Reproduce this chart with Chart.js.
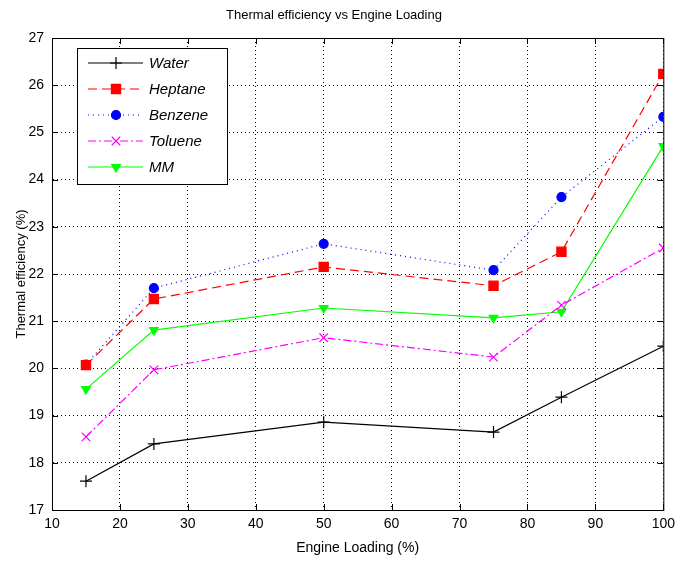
<!DOCTYPE html>
<html>
<head>
<meta charset="utf-8">
<script src="https://cdn.jsdelivr.net/npm/chart.js@4"></script>
<style>
  body { margin: 0; background: #fff; }
  #cv { display: block; }
</style>
</head>
<body>
<canvas id="cv" width="681" height="561"></canvas>
<script>
// engine loading (%) and thermal efficiency (%) per fuel
const loads = [15, 25, 50, 75, 85, 100];
const water   = [17.61, 18.40, 18.86, 18.65, 19.39, 20.47];
const heptane = [20.07, 21.47, 22.15, 21.75, 22.47, 26.24];
const benzene = [20.08, 21.70, 22.64, 22.08, 23.63, 25.33];
const toluene = [18.55, 19.97, 20.65, 20.24, 21.34, 22.55];
const mm      = [19.56, 20.81, 21.28, 21.07, 21.20, 24.71];
const xTicks = [10, 20, 30, 40, 50, 60, 70, 80, 90, 100];
const yTicks = [17, 18, 19, 20, 21, 22, 23, 24, 25, 26, 27];

function pts(ys) {
  return loads.map((x, i) => ({ x: x, y: ys[i] }));
}

const FONT = '"Liberation Sans", Arial, sans-serif';

const series = [
  { label: 'Water',   data: water,   color: '#000000', dash: [],          style: 'cross',    radius: 6,   rot: 0 },
  { label: 'Heptane', data: heptane, color: '#ff0000', dash: [9, 5],      style: 'rect',     radius: 6.5, rot: 0 },
  { label: 'Benzene', data: benzene, color: '#0000ff', dash: [1, 4],      style: 'circle',   radius: 4.5, rot: 0 },
  { label: 'Toluene', data: toluene, color: '#ff00ff', dash: [8, 3, 2, 3], style: 'crossRot', radius: 6,   rot: 0 },
  { label: 'MM',      data: mm,      color: '#00ff00', dash: [],          style: 'triangle', radius: 5,   rot: 180 }
];

const datasets = series.map(s => ({
  label: s.label,
  data: pts(s.data),
  borderColor: s.color,
  backgroundColor: s.color,
  borderWidth: 1.2,
  borderDash: s.dash,
  pointStyle: s.style,
  pointRadius: s.radius,
  pointRotation: s.rot,
  pointBorderWidth: 1.2,
  pointBorderColor: s.color,
  pointBackgroundColor: s.color,
  tension: 0
}));

// frame, inward ticks and inset legend
const matlabLook = {
  id: 'matlabLook',
  afterDraw(chart) {
    const ctx = chart.ctx;
    const a = chart.chartArea;
    const xs = chart.scales.x, ys = chart.scales.y;
    ctx.save();
    ctx.strokeStyle = '#000';
    ctx.lineWidth = 1;
    ctx.setLineDash([]);
    ctx.strokeRect(a.left + 0.5, a.top + 0.5, a.right - a.left, a.bottom - a.top);
    ctx.beginPath();
    xTicks.forEach(v => {
      const px = Math.round(xs.getPixelForValue(v)) + 0.5;
      ctx.moveTo(px, a.bottom); ctx.lineTo(px, a.bottom - 6);
      ctx.moveTo(px, a.top); ctx.lineTo(px, a.top + 6);
    });
    yTicks.forEach(v => {
      const py = Math.round(ys.getPixelForValue(v)) + 0.5;
      ctx.moveTo(a.left, py); ctx.lineTo(a.left + 6, py);
      ctx.moveTo(a.right, py); ctx.lineTo(a.right - 6, py);
    });
    ctx.stroke();

    // legend box
    const bx = 77, by = 48, bw = 150, bh = 136;
    ctx.fillStyle = '#fff';
    ctx.fillRect(bx, by, bw, bh);
    ctx.strokeRect(bx + 0.5, by + 0.5, bw, bh);
    series.forEach((s, i) => {
      const y = by + 15 + i * 26;
      ctx.strokeStyle = s.color;
      ctx.lineWidth = 1.2;
      ctx.setLineDash(s.dash);
      ctx.beginPath();
      ctx.moveTo(88, y); ctx.lineTo(143, y);
      ctx.stroke();
      ctx.setLineDash([]);
      ctx.fillStyle = s.color;
      Chart.helpers.drawPoint(ctx, {
        pointStyle: s.style, radius: s.radius, rotation: s.rot, borderWidth: 1.2
      }, 116, y);
      if (s.style !== 'cross' && s.style !== 'crossRot') ctx.fill();
      ctx.fillStyle = '#000';
      ctx.font = 'italic 15px ' + FONT;
      ctx.textBaseline = 'middle';
      ctx.textAlign = 'left';
      ctx.fillText(s.label, 149, y + 1);
    });
    ctx.restore();
  }
};

new Chart(document.getElementById('cv'), {
  type: 'line',
  data: { datasets: datasets },
  plugins: [matlabLook],
  options: {
    responsive: false,
    animation: false,
    layout: { padding: { top: 0, right: 13, left: 0, bottom: 0 } },
    plugins: {
      legend: { display: false },
      tooltip: { enabled: false },
      title: {
        display: true,
        text: 'Thermal efficiency vs Engine Loading',
        color: '#000',
        font: { family: FONT, size: 13, weight: 'normal' },
        padding: { top: 8, bottom: 14.4 }
      }
    },
    scales: {
      x: {
        type: 'linear',
        min: 10, max: 100,
        afterBuildTicks: s => { s.ticks = xTicks.map(v => ({ value: v })); },
        afterFit: s => { s.height = 51; },
        grid: { color: '#000', lineWidth: 1, tickLength: 0, drawTicks: false },
        border: { display: true, color: '#000', dash: [1, 3] },
        ticks: { color: '#000', padding: 6, font: { family: FONT, size: 14 }, maxRotation: 0 },
        title: {
          display: true, text: 'Engine Loading (%)', color: '#000',
          font: { family: FONT, size: 14 }, padding: { top: 2 }
        }
      },
      y: {
        type: 'linear',
        min: 17, max: 27,
        afterBuildTicks: s => { s.ticks = yTicks.map(v => ({ value: v })); },
        afterFit: s => { s.width = 52; },
        grid: { color: '#000', lineWidth: 1, tickLength: 0, drawTicks: false },
        border: { display: true, color: '#000', dash: [1, 3] },
        ticks: { color: '#000', padding: 8, font: { family: FONT, size: 14 } },
        title: {
          display: true, text: 'Thermal efficiency (%)', color: '#000',
          font: { family: FONT, size: 13 }, padding: { top: 14, bottom: 2 }
        }
      }
    }
  }
});
</script>
</body>
</html>
